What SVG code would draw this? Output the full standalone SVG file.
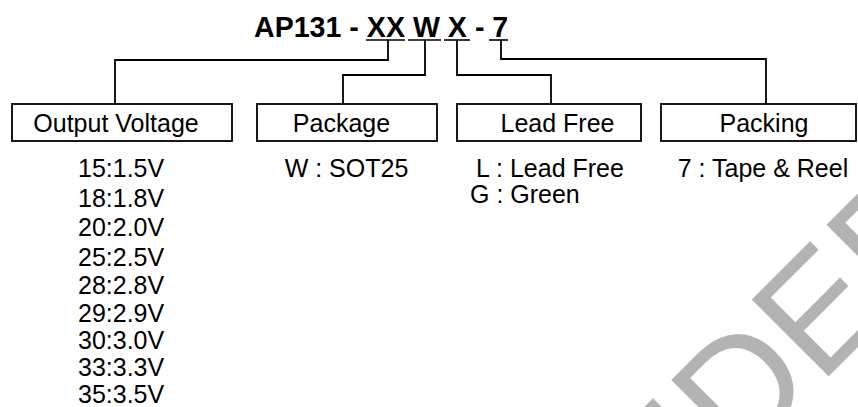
<svg xmlns="http://www.w3.org/2000/svg" width="858" height="407" viewBox="0 0 858 407">
<style>
  .t { font-family: "Liberation Sans", Arial, sans-serif; font-size: 25px; fill: #000; }
  .c { text-anchor: middle; }
  .title { font-family: "Liberation Sans", Arial, sans-serif; font-size: 28.6px; font-weight: bold; fill: #000; }
  .box { fill: #fff; stroke: #000; stroke-width: 1.8; }
  .wire { fill: none; stroke: #000; stroke-width: 1.8; }
  .ul { stroke: #000; stroke-width: 1.6; }
  .wm { font-family: "Liberation Sans", Arial, sans-serif; font-size: 158px; fill: #b3b3b3; }
</style>
<rect width="858" height="407" fill="#fff"/>
<g id="watermark">
  <text class="wm" transform="translate(819.6,385.4) rotate(-45)" x="-228.2" y="0">NDED</text>
</g>
<g id="title">
  <text class="title" x="254" y="37">AP131 - XX W X - 7</text>
  <line class="ul" x1="366" y1="40" x2="405" y2="40"/>
  <line class="ul" x1="408" y1="40" x2="441" y2="40"/>
  <line class="ul" x1="444" y1="40" x2="470" y2="40"/>
  <line class="ul" x1="489" y1="40" x2="508" y2="40"/>
</g>
<g id="connectors">
  <path class="wire" d="M388,40 V60 H115 V104"/>
  <path class="wire" d="M425,40 V75 H343 V104"/>
  <path class="wire" d="M457,40 V75 H551 V104"/>
  <path class="wire" d="M501,40 V59 H766 V104"/>
</g>
<g id="output-voltage">
  <rect class="box" x="12" y="104" width="220" height="37"/>
  <text class="t c" x="116" y="132">Output Voltage</text>
  <text class="t" x="78" y="177">15:1.5V</text>
  <text class="t" x="78" y="207">18:1.8V</text>
  <text class="t" x="78" y="236">20:2.0V</text>
  <text class="t" x="78" y="266">25:2.5V</text>
  <text class="t" x="78" y="294">28:2.8V</text>
  <text class="t" x="78" y="322">29:2.9V</text>
  <text class="t" x="78" y="349">30:3.0V</text>
  <text class="t" x="78" y="376">33:3.3V</text>
  <text class="t" x="78" y="403">35:3.5V</text>
</g>
<g id="package">
  <rect class="box" x="257" y="104" width="180" height="37"/>
  <text class="t c" x="341.5" y="132">Package</text>
  <text class="t c" x="346.5" y="177">W : SOT25</text>
</g>
<g id="lead-free">
  <rect class="box" x="457" y="104" width="184" height="37"/>
  <text class="t c" x="557.5" y="132">Lead Free</text>
  <text class="t c" x="550" y="177">L : Lead Free</text>
  <text class="t" x="470" y="203">G : Green</text>
</g>
<g id="packing">
  <rect class="box" x="661" y="104" width="195" height="37"/>
  <text class="t c" x="764" y="132">Packing</text>
  <text class="t c" x="763" y="177">7 : Tape &amp; Reel</text>
</g>
</svg>
